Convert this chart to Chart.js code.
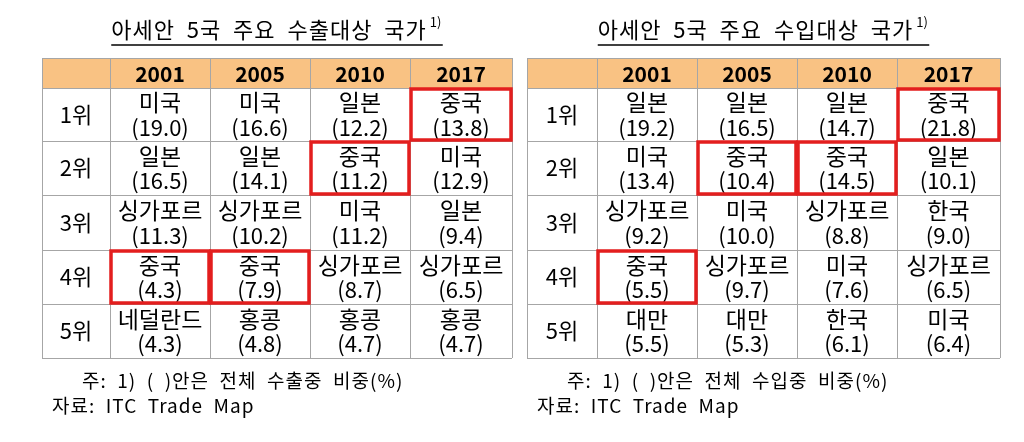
<!DOCTYPE html>
<html>
<head>
<meta charset="utf-8">
<script src="https://cdn.jsdelivr.net/npm/chart.js@4/dist/chart.umd.min.js"></script>
<style>
  html, body { margin: 0; padding: 0; background: #fff; }
  #wrap { width: 1024px; height: 442px; }
</style>
</head>
<body>
<div id="wrap"><canvas id="tbl" width="1024" height="442"></canvas></div>
<script>
// ---------------------------------------------------------------
// DATA
// ---------------------------------------------------------------
const years = ["2001", "2005", "2010", "2017"];
const ranks = ["1위", "2위", "3위", "4위", "5위"];

const exportCountries = [
  ["미국", "미국", "일본", "중국"],
  ["일본", "일본", "중국", "미국"],
  ["싱가포르", "싱가포르", "미국", "일본"],
  ["중국", "중국", "싱가포르", "싱가포르"],
  ["네덜란드", "홍콩", "홍콩", "홍콩"],
];
const exportShares = [
  [19.0, 16.6, 12.2, 13.8],
  [16.5, 14.1, 11.2, 12.9],
  [11.3, 10.2, 11.2, 9.4],
  [4.3, 7.9, 8.7, 6.5],
  [4.3, 4.8, 4.7, 4.7],
];

const importCountries = [
  ["일본", "일본", "일본", "중국"],
  ["미국", "중국", "중국", "일본"],
  ["싱가포르", "미국", "싱가포르", "한국"],
  ["중국", "싱가포르", "미국", "싱가포르"],
  ["대만", "대만", "한국", "미국"],
];
const importShares = [
  [19.2, 16.5, 14.7, 21.8],
  [13.4, 10.4, 14.5, 10.1],
  [9.2, 10.0, 8.8, 9.0],
  [5.5, 9.7, 7.6, 6.5],
  [5.5, 5.3, 6.1, 6.4],
];

const highlightCountry = "중국";

// ---------------------------------------------------------------
// LAYOUT (page units, mapped through the chart's linear scales)
// ---------------------------------------------------------------
const tables = [
  { title: "아세안  5국  주요  수출대상  국가", note: "주:  1)  (  )안은  전체  수출중  비중(%)",
    countries: exportCountries, shares: exportShares,
    cols: [42, 110, 210, 310, 410, 512] },
  { title: "아세안  5국  주요  수입대상  국가", note: "주:  1)  (  )안은  전체  수입중  비중(%)",
    countries: importCountries, shares: importShares,
    cols: [527, 597, 697, 797, 897, 1000] },
];
const rowEdges = [58, 88, 141, 195, 250, 304, 358];
const FONT = "'Noto Sans CJK KR', 'Noto Sans', sans-serif";

const tablePlugin = {
  id: "tablePlugin",
  afterDraw(chart) {
    const ctx = chart.ctx;
    const X = (v) => chart.scales.x.getPixelForValue(v);
    const Y = (v) => chart.scales.y.getPixelForValue(v);
    ctx.save();
    ctx.textAlign = "center";
    ctx.textBaseline = "middle";

    tables.forEach((t) => {
      const c = t.cols;
      // header fill
      ctx.fillStyle = "#F9C283";
      ctx.fillRect(X(c[0]), Y(rowEdges[0]), X(c[5]) - X(c[0]), Y(rowEdges[1]) - Y(rowEdges[0]));

      // grid
      ctx.strokeStyle = "#a6a6a6";
      ctx.lineWidth = 1;
      rowEdges.forEach((r) => {
        ctx.beginPath(); ctx.moveTo(X(c[0]), Y(r) + 0.5); ctx.lineTo(X(c[5]), Y(r) + 0.5); ctx.stroke();
      });
      c.forEach((x) => {
        ctx.beginPath(); ctx.moveTo(X(x) + 0.5, Y(rowEdges[0])); ctx.lineTo(X(x) + 0.5, Y(rowEdges[6])); ctx.stroke();
      });

      // title
      const cx = (X(c[0]) + X(c[5])) / 2;
      ctx.fillStyle = "#000";
      ctx.font = `22px ${FONT}`;
      ctx.letterSpacing = "1px";
      const tw = ctx.measureText(t.title).width;
      ctx.fillText(t.title, cx - 8, Y(30));
      ctx.letterSpacing = "0px";
      ctx.font = `13px ${FONT}`;
      ctx.textAlign = "left";
      ctx.fillText("1)", cx - 8 + tw / 2 + 3, Y(22));
      ctx.textAlign = "center";
      ctx.lineWidth = 1.5;
      ctx.strokeStyle = "#000";
      ctx.beginPath();
      ctx.moveTo(cx - 8 - tw / 2, Y(45)); ctx.lineTo(cx - 8 + tw / 2 + 16, Y(45)); ctx.stroke();

      // header years
      ctx.font = `bold 21px ${FONT}`;
      years.forEach((yr, j) => {
        ctx.fillText(yr, (X(c[j + 1]) + X(c[j + 2])) / 2, (Y(rowEdges[0]) + Y(rowEdges[1])) / 2 + 1);
      });

      // body
      ranks.forEach((rk, i) => {
        const top = Y(rowEdges[i + 1]), bot = Y(rowEdges[i + 2]);
        const mid = (top + bot) / 2;
        ctx.font = `22px ${FONT}`;
        ctx.fillText(rk, (X(c[0]) + X(c[1])) / 2, mid);
        years.forEach((yr, j) => {
          const x0 = X(c[j + 1]), x1 = X(c[j + 2]);
          const mx = (x0 + x1) / 2;
          ctx.font = `23px ${FONT}`;
          ctx.fillText(t.countries[i][j], mx, mid - 12);
          ctx.font = `22px ${FONT}`;
          ctx.fillText(`(${t.shares[i][j].toFixed(1)})`, mx, mid + 13);
          if (t.countries[i][j] === highlightCountry) {
            ctx.strokeStyle = "#e31e1e";
            ctx.lineWidth = 3.5;
            ctx.strokeRect(x0 + 1, top + 1, x1 - x0 - 2, bot - top - 2);
          }
        });
      });

      // notes
      ctx.textAlign = "left";
      ctx.font = `19px ${FONT}`;
      ctx.letterSpacing = "1px";
      ctx.fillText(t.note, X(c[0] + 40), Y(381));
      ctx.fillText("자료:  ITC  Trade  Map", X(c[0] + 10), Y(406));
      ctx.letterSpacing = "0px";
      ctx.textAlign = "center";
    });
    ctx.restore();
  },
};

new Chart(document.getElementById("tbl"), {
  type: "scatter",
  data: { datasets: [{ data: [] }] },
  options: {
    responsive: false,
    animation: false,
    layout: { padding: 0 },
    plugins: { legend: { display: false }, tooltip: { enabled: false } },
    scales: {
      x: { type: "linear", min: 0, max: 1024, display: false },
      y: { type: "linear", min: 0, max: 442, reverse: true, display: false },
    },
  },
  plugins: [tablePlugin],
});
</script>
</body>
</html>
